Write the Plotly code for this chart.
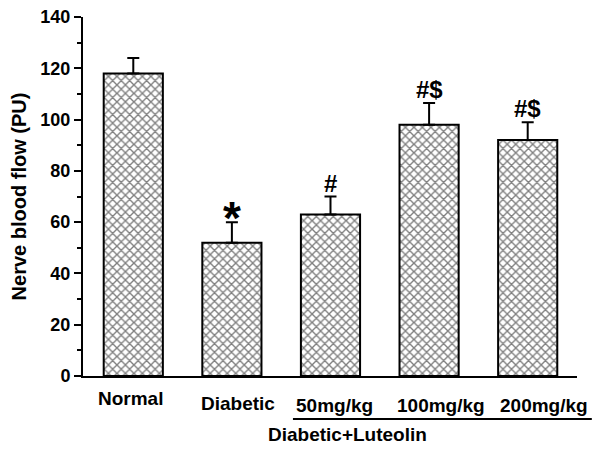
import plotly.graph_objects as go

categories = ["Normal", "Diabetic", "50mg/kg", "100mg/kg", "200mg/kg"]
means = [118, 52, 63, 98, 92]
errors = [6, 8, 7, 8.5, 7]
marks = ["", "*", "#", "#$", "#$"]
group_label = "Diabetic+Luteolin"

FONT = "Arial, Liberation Sans, sans-serif"
xs = list(range(len(categories)))

fig = go.Figure()
fig.add_trace(go.Bar(
    x=xs, y=means, width=0.6,
    marker=dict(color="white", line=dict(color="black", width=2),
                pattern=dict(shape="x", size=6, solidity=0.4,
                             fgcolor="black", bgcolor="white")),
    error_y=dict(type="data", array=errors, arrayminus=[0]*len(errors),
                 symmetric=False, color="black", thickness=2, width=6),
    showlegend=False,
))

annotations = []
label_offsets = [-3, 6, 4, 12, 16]
label_dy = [22, 27, 29, 29, 29]
for i, (c, m, e, mk) in enumerate(zip(categories, means, errors, marks)):
    annotations.append(dict(x=i, y=0, xref="x", yref="y", text=c,
                            showarrow=False, xshift=label_offsets[i],
                            yshift=-label_dy[i], yanchor="middle",
                            font=dict(family=FONT, size=19, color="black",
                                      weight="bold")))
    if mk == "*":
        annotations.append(dict(x=i, y=m + e, xref="x", yref="y",
                                text=mk, showarrow=False, xshift=0,
                                yanchor="middle", yshift=4,
                                font=dict(family=FONT, size=46,
                                          color="black", weight="bold")))
    elif mk:
        annotations.append(dict(x=i, y=m + e, xref="x", yref="y",
                                text=mk, showarrow=False,
                                yanchor="bottom", yshift=-2,
                                font=dict(family=FONT, size=24,
                                          color="black", weight="bold")))
annotations.append(dict(x=0.70, y=-0.164, xref="paper", yref="paper",
                        text=group_label, showarrow=False,
                        yanchor="middle",
                        font=dict(family=FONT, size=19, color="black",
                                  weight="bold")))

fig.update_layout(
    width=592, height=442,
    margin=dict(l=75, r=23, t=9, b=74, autoexpand=False),
    plot_bgcolor="white", paper_bgcolor="white",
    bargap=0.4,
    annotations=annotations,
    shapes=[dict(type="line", xref="paper", yref="paper",
                 x0=0.425, x1=1.03, y0=-0.12, y1=-0.12,
                 line=dict(color="black", width=2))],
    xaxis=dict(range=[-0.51, 4.5], showline=True, linecolor="black",
               linewidth=2, ticks="", showticklabels=False,
               showgrid=False, zeroline=False, automargin=False),
    yaxis=dict(range=[0, 140], dtick=20, showline=True, linecolor="black",
               linewidth=2, ticks="outside", ticklen=7, tickwidth=2,
               tickcolor="black", showgrid=False, zeroline=False,
               automargin=False, ticklabeloverflow="allow",
               minor=dict(dtick=10, ticks="outside", ticklen=4,
                          tickwidth=2, tickcolor="black"),
               tickfont=dict(family=FONT, size=18, color="black", weight="bold"),
               title=dict(text="Nerve blood flow (PU)", standoff=17,
                          font=dict(family=FONT, size=20, color="black",
                                    weight="bold"))),
)

fig.write_html("out.html")
